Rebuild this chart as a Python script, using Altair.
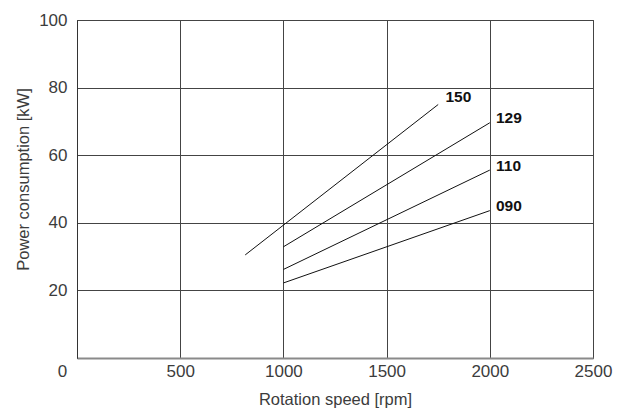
import altair as alt
import pandas as pd

# Pump sizes and their power-consumption lines (two end points each)
sizes = ["150", "129", "110", "090"]
speed_start = [815, 1000, 1000, 1000]
speed_end = [1750, 2000, 2000, 2000]
power_start = [30.5, 32.9, 26.2, 22.2]
power_end = [75.0, 69.6, 55.6, 43.6]

# Label anchor for each size
label_speed = [1785, 2030, 2030, 2030]
label_power = [77.3, 71.0, 56.9, 45.1]

x_ticks = [0, 500, 1000, 1500, 2000, 2500]
y_ticks = [20, 40, 60, 80, 100]

rows = []
for s, x0, x1, y0, y1 in zip(sizes, speed_start, speed_end, power_start, power_end):
    rows.append({"size": s, "speed": x0, "power": y0})
    rows.append({"size": s, "speed": x1, "power": y1})
lines_df = pd.DataFrame(rows)
labels_df = pd.DataFrame({"size": sizes, "speed": label_speed, "power": label_power})

font = "Liberation Sans"
text_grey = "#3c3c3c"
x_scale = alt.Scale(domain=[0, 2500], nice=False, zero=True)
y_scale = alt.Scale(domain=[0, 100], nice=False, zero=True)

x_enc = alt.X(
    "speed:Q",
    scale=x_scale,
    axis=alt.Axis(
        title="Rotation speed [rpm]",
        values=x_ticks,
        format="d",
        ticks=False,
        labelOffset={"condition": {"test": "datum.value == 0", "value": -15}, "value": 0},
        labelPadding=5,
        labelFontSize=17,
        labelColor=text_grey,
        labelFont=font,
        titleFont=font,
        titleFontSize=16.5,
        titleFontWeight="normal",
        titleColor=text_grey,
        titleBaseline="middle",
        titleY=41,
        grid=True,
        gridColor="#444444",
        gridWidth=1,
        gridOpacity=1,
        domainColor="#8a8a8a",
        domainWidth=2,
        labelFlush=False,
    ),
)
y_enc = alt.Y(
    "power:Q",
    scale=y_scale,
    axis=alt.Axis(
        title="Power consumption [kW]",
        values=y_ticks,
        format="d",
        ticks=False,
        labelPadding=10,
        labelFontSize=17,
        labelColor=text_grey,
        labelFont=font,
        titleFont=font,
        titleFontSize=16.5,
        titleFontWeight="normal",
        titleColor=text_grey,
        titleAngle=270,
        titleAlign="center",
        titleBaseline="middle",
        titleX=-54,
        titleY=159,
        grid=True,
        gridColor="#444444",
        gridWidth=1,
        gridOpacity=1,
        domainColor="#333333",
        domainWidth=1,
        labelFlush=False,
    ),
)

lines = alt.Chart(lines_df).mark_line(color="#111111", strokeWidth=1).encode(
    x=x_enc, y=y_enc, detail="size:N"
)

labels = alt.Chart(labels_df).mark_text(
    align="left", baseline="middle", fontSize=15.5, fontWeight="bold", font=font, color="#111111"
).encode(
    x=alt.X("speed:Q", scale=x_scale),
    y=alt.Y("power:Q", scale=y_scale),
    text="size:N",
)

chart = (
    alt.layer(lines, labels)
    .properties(
        width=516,
        height=338,
        autosize=alt.AutoSizeParams(type="none"),
        padding={"left": 77, "top": 20, "right": 34, "bottom": 54},
        background="white",
    )
    .configure_view(stroke="#333333", strokeWidth=1)
)

chart.save("out.html", embed_options={"renderer": "svg", "actions": False})
